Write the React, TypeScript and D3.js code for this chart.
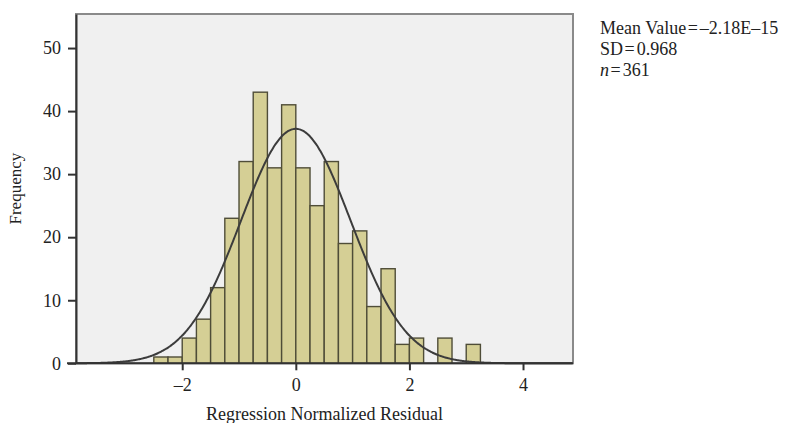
import React, { useEffect, useRef } from "react";
import * as d3 from "d3";

// histogram bins (left edge, width 0.25) and counts
const binStarts = [-2.5, -2.25, -2.0, -1.75, -1.5, -1.25, -1.0, -0.75, -0.5, -0.25, 0, 0.25, 0.5, 0.75, 1.0, 1.25, 1.5, 1.75, 2.0, 2.25, 2.5, 2.75, 3.0];
const counts = [1, 1, 4, 7, 12, 23, 32, 43, 31, 41, 31, 25, 32, 19, 21, 9, 15, 3, 4, 0, 4, 0, 3];
const binWidth = 0.25;

const xTicks = [-2, 0, 2, 4];
const yTicks = [0, 10, 20, 30, 40, 50];

const meanValue = -2.18e-15;
const sd = 0.968;
const n = 361;
const statLabels = ["Mean Value", "SD", "n"];
const statValues = ["\u20132.18E\u201315", "0.968", "361"];

const W = 786;
const H = 423;
const FONT = "'Liberation Serif', 'Times New Roman', serif";

function Histogram() {
  const ref = useRef<SVGSVGElement>(null);

  useEffect(() => {
    document.body.style.margin = "0";
    const svg = d3.select(ref.current);
    svg.selectAll("*").remove();

    const margin = { top: 14, left: 76, right: 213 };
    const innerW = W - margin.left - margin.right;
    const innerH = 363.3 - margin.top;

    const x = d3.scaleLinear().domain([-3.87, 4.88]).range([0, innerW]);
    const y = d3.scaleLinear().domain([0, 55.4]).range([innerH, 0]);

    const g = svg.append("g").attr("transform", `translate(${margin.left},${margin.top})`);

    // plot background + frame
    g.append("rect")
      .attr("width", innerW)
      .attr("height", innerH)
      .attr("fill", "#f0f0f0")
      .attr("stroke", "#8a8a8a")
      .attr("stroke-width", 2);

    const data = binStarts.map((b, i) => ({ b, c: counts[i] })).filter(d => d.c > 0);

    g.selectAll("rect.bar")
      .data(data)
      .enter()
      .append("rect")
      .attr("class", "bar")
      .attr("x", d => x(d.b))
      .attr("y", d => y(d.c))
      .attr("width", d => x(d.b + binWidth) - x(d.b))
      .attr("height", d => innerH - y(d.c))
      .attr("fill", "#d5cf95")
      .attr("stroke", "#4f4d38")
      .attr("stroke-width", 1.4);

    // normal curve
    const scale = n * binWidth / (sd * Math.sqrt(2 * Math.PI));
    const xs = d3.range(-3.87, 4.88, 0.02);
    const line = d3.line<number>()
      .x(v => x(v))
      .y(v => y(scale * Math.exp(-0.5 * ((v - meanValue) / sd) ** 2)))
      .curve(d3.curveBasis);
    g.append("path")
      .datum(xs)
      .attr("d", line)
      .attr("fill", "none")
      .attr("stroke", "#3c3c3c")
      .attr("stroke-width", 2);

    // axes
    const yAxis = g.append("g")
      .call(d3.axisLeft(y).tickValues(yTicks).tickSize(8).tickPadding(7).tickSizeOuter(0));
    const xAxis = g.append("g")
      .attr("transform", `translate(0,${innerH})`)
      .call(d3.axisBottom(x).tickValues(xTicks).tickSize(7).tickPadding(8).tickSizeOuter(0)
        .tickFormat(d => (+d < 0 ? "\u2013" + Math.abs(+d) : String(d))));

    [yAxis, xAxis].forEach(ax => {
      ax.select(".domain").attr("stroke", "#333").attr("stroke-width", 2);
      ax.selectAll(".tick line").attr("stroke", "#333").attr("stroke-width", 2);
      ax.selectAll(".tick text")
        .attr("fill", "#222")
        .style("font-family", FONT)
        .style("font-size", "18px");
    });
    xAxis.select(".domain").attr("d", `M-9,0H${innerW}`);

    // axis titles
    svg.append("text")
      .text("Regression Normalized Residual")
      .attr("x", margin.left + innerW / 2)
      .attr("y", 420)
      .attr("text-anchor", "middle")
      .attr("fill", "#222")
      .style("font-family", FONT)
      .style("font-size", "18px");

    svg.append("text")
      .text("Frequency")
      .attr("transform", `translate(21,${margin.top + innerH / 2}) rotate(-90)`)
      .attr("text-anchor", "middle")
      .attr("fill", "#222")
      .style("font-family", FONT)
      .style("font-size", "17px");

    // stats
    const stats = svg.append("g")
      .style("font-family", FONT)
      .style("font-size", "18px")
      .attr("fill", "#222");
    statLabels.forEach((lab, i) => {
      const t = stats.append("text").attr("x", 600).attr("y", 34 + i * 21);
      t.append("tspan").text(lab).style("font-style", lab === "n" ? "italic" : "normal");
      t.append("tspan").attr("dx", 1.5).text("=");
      t.append("tspan").attr("dx", 2).text(statValues[i]);
    });
  }, []);

  return <svg ref={ref} width={W} height={H} style={{ display: "block" }} />;
}

export default function App() {
  return <Histogram />;
}
